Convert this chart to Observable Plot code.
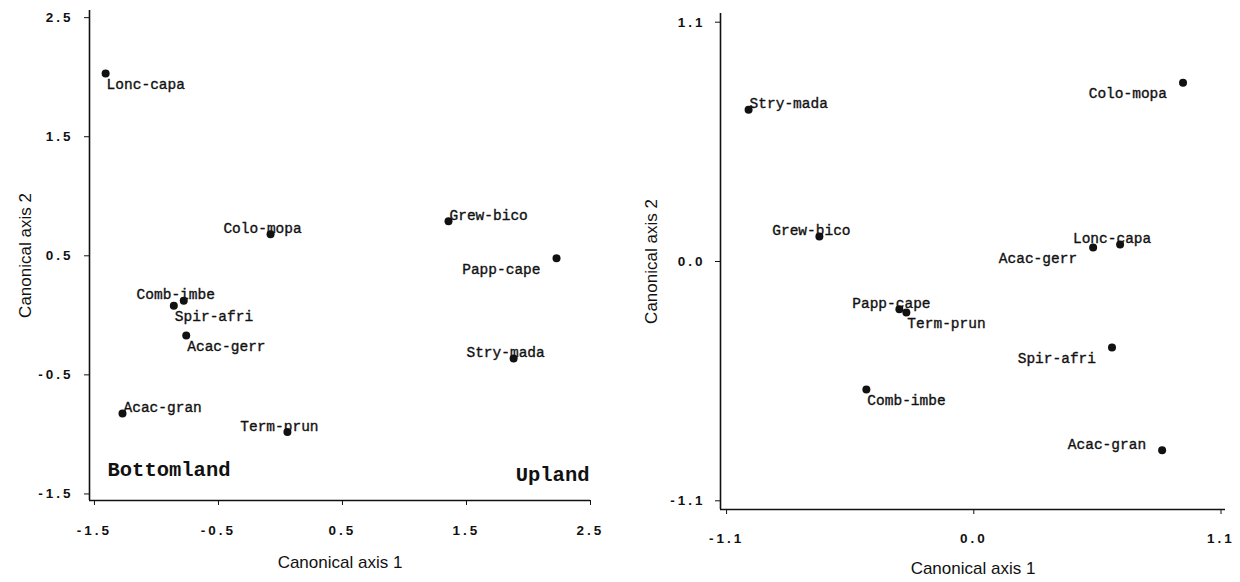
<!DOCTYPE html>
<html><head><meta charset="utf-8">
<script src="https://cdn.jsdelivr.net/npm/d3@7"></script>
<script src="https://cdn.jsdelivr.net/npm/@observablehq/plot@0.6"></script>
<style>
html,body{margin:0;padding:0;background:#fff;}
#wrap{display:flex;width:1240px;height:582px;overflow:hidden;}
#wrap svg{display:block;flex:none;}
g[aria-label="x-axis"] text, g[aria-label="y-axis"] text,
g[aria-label$="tick label"] text {letter-spacing:3px;font-weight:bold;font-size:13.5px;}
</style></head><body><div id="wrap"></div>
<script>
// ---- data ----
const species = ["Lonc-capa","Colo-mopa","Grew-bico","Papp-cape","Stry-mada","Comb-imbe","Spir-afri","Acac-gerr","Acac-gran","Term-prun"];
const leftAxis1  = [-1.41, -0.08, 1.355, 2.226, 1.88, -0.78, -0.86, -0.76, -1.274, 0.056];
const leftAxis2  = [2.03, 0.68, 0.79, 0.48, -0.363, 0.123, 0.08, -0.17, -0.824, -0.98];
const rightAxis1 = [0.651, 0.931, -0.687, -0.331, -1.002, -0.478, 0.615, 0.531, 0.838, -0.30];
const rightAxis2 = [0.078, 0.822, 0.115, -0.22, 0.698, -0.588, -0.395, 0.064, -0.868, -0.234];
const leftTicks  = [-1.5, -0.5, 0.5, 1.5, 2.5];
const rightTicks = [-1.1, 0.0, 1.1];
const xTitle = "Canonical axis 1";
const yTitle = "Canonical axis 2";
const groupLabels = ["Bottomland", "Upland"];

// ---- label placement (style, not data) ----
const placeLeft  = {"Lonc-capa":"br","Colo-mopa":"a","Grew-bico":"ar","Papp-cape":"bl","Stry-mada":"a",
                    "Comb-imbe":"a","Spir-afri":"br","Acac-gerr":"br","Acac-gran":"ar","Term-prun":"a"};
const placeRight = {"Lonc-capa":"a","Colo-mopa":"bl","Grew-bico":"a","Papp-cape":"a","Stry-mada":"ar",
                    "Comb-imbe":"br","Spir-afri":"bl","Acac-gerr":"bl","Acac-gran":"l","Term-prun":"br"};
const placeStyles = {
  a:  {textAnchor:"middle", dx:-8,  dy:-6},
  ar: {textAnchor:"start",  dx:1,   dy:-6},
  br: {textAnchor:"start",  dx:1,   dy:11},
  bl: {textAnchor:"end",    dx:-16, dy:11},
  l:  {textAnchor:"end",    dx:-16, dy:-6}
};
const fmt = v => v.toFixed(1);
const mono = "'Liberation Mono', 'Courier New', monospace";
const sans = "'Liberation Sans', Arial, sans-serif";

function panel({xs, ys, ticks, xDomain, yDomain, place, margins, tickPadX, tickPadY, yLabDx, xLabDy, extra}) {
  const data = species.map((name, i) => ({name, x: xs[i], y: ys[i]}));
  const labelMarks = Object.keys(placeStyles).map(code =>
    Plot.text(data.filter(d => place[d.name] === code), {
      x: "x", y: "y", text: "name", ...placeStyles[code],
      fontFamily: mono, fontSize: 14.5, fill: "#111", stroke: "#111", strokeWidth: 0.35
    }));
  return Plot.plot({
    width: 620, height: 582,
    ...margins,
    style: {fontFamily: sans, fontSize: "13px", color: "#111", background: "#fff"},
    x: {domain: xDomain, ticks: ticks, tickFormat: fmt, tickSize: 5, tickPadding: tickPadX, label: null},
    y: {domain: yDomain, ticks: ticks, tickFormat: fmt, tickSize: 5, tickPadding: tickPadY, label: null},
    marks: [
      Plot.ruleX([xDomain[0]], {stroke: "#111", strokeWidth: 1.6}),
      Plot.ruleY([yDomain[0]], {stroke: "#111", strokeWidth: 1.6}),
      Plot.dot(data, {x: "x", y: "y", r: 4, fill: "#111", stroke: "none"}),
      ...labelMarks,
      Plot.text([yTitle], {frameAnchor: "left", rotate: -90, dx: yLabDx, textAnchor: "middle",
        fontFamily: sans, fontSize: 17, fill: "#111"}),
      Plot.text([xTitle], {frameAnchor: "bottom", dy: xLabDy, textAnchor: "middle",
        fontFamily: sans, fontSize: 17, fill: "#111"}),
      ...(extra || [])
    ]
  });
}

const left = panel({
  xs: leftAxis1, ys: leftAxis2, ticks: leftTicks,
  xDomain: [-1.54, 2.5], yDomain: [-1.555, 2.56],
  place: placeLeft,
  margins: {marginLeft: 89, marginRight: 30, marginTop: 10, marginBottom: 82},
  tickPadX: 20, tickPadY: 11, yLabDx: -64, xLabDy: 67,
  extra: [
    Plot.text([groupLabels[0]], {frameAnchor: "bottom-left", textAnchor: "start", dx: 18, dy: -25,
      fontFamily: mono, fontWeight: "bold", fontSize: 20.5, fill: "#111"}),
    Plot.text([groupLabels[1]], {frameAnchor: "bottom-right", textAnchor: "end", dx: -1, dy: -20,
      fontFamily: mono, fontWeight: "bold", fontSize: 20.5, fill: "#111"})
  ]
});

const right = panel({
  xs: rightAxis1, ys: rightAxis2, ticks: rightTicks,
  xDomain: [-1.127, 1.12], yDomain: [-1.14, 1.14],
  place: placeRight,
  margins: {marginLeft: 100, marginRight: 15, marginTop: 13, marginBottom: 73},
  tickPadX: 19, tickPadY: 10, yLabDx: -69, xLabDy: 64
});

document.getElementById("wrap").append(left, right);
</script>
</body></html>
